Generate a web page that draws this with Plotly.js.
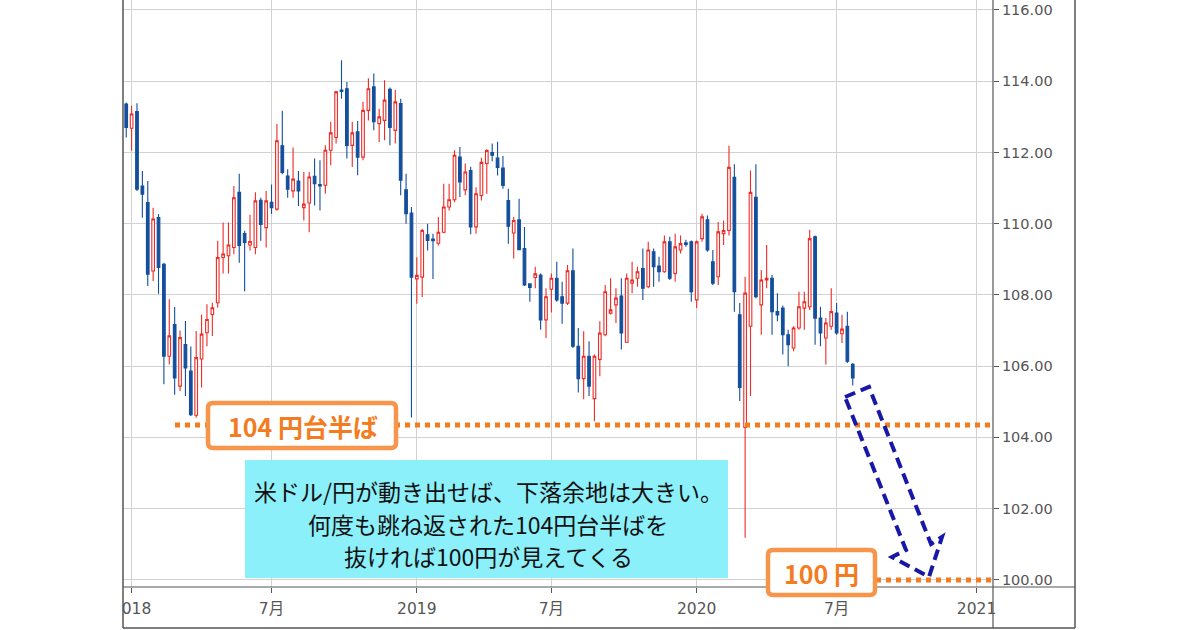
<!DOCTYPE html>
<html><head><meta charset="utf-8">
<script src="https://cdn.plot.ly/plotly-3.0.1.min.js"></script>
<style>html,body{margin:0;padding:0;background:#fff}#chart{width:1200px;height:630px}</style>
</head><body><div id="chart"></div>
<script>
// Weekly USD/JPY bars (week start dates)
const weeks = ['2017-12-25',
'2018-01-01','2018-01-08','2018-01-15','2018-01-22','2018-01-29','2018-02-05','2018-02-12','2018-02-19','2018-02-26','2018-03-05','2018-03-12','2018-03-19','2018-03-26','2018-04-02','2018-04-09','2018-04-16','2018-04-23','2018-04-30','2018-05-07','2018-05-14','2018-05-21','2018-05-28','2018-06-04','2018-06-11','2018-06-18','2018-06-25','2018-07-02','2018-07-09','2018-07-16','2018-07-23','2018-07-30','2018-08-06','2018-08-13','2018-08-20','2018-08-27','2018-09-03','2018-09-10','2018-09-17','2018-09-24','2018-10-01','2018-10-08','2018-10-15','2018-10-22','2018-10-29','2018-11-05','2018-11-12','2018-11-19','2018-11-26','2018-12-03','2018-12-10','2018-12-17','2018-12-24','2018-12-31',
'2019-01-07','2019-01-14','2019-01-21','2019-01-28','2019-02-04','2019-02-11','2019-02-18','2019-02-25','2019-03-04','2019-03-11','2019-03-18','2019-03-25','2019-04-01','2019-04-08','2019-04-15','2019-04-22','2019-04-29','2019-05-06','2019-05-13','2019-05-20','2019-05-27','2019-06-03','2019-06-10','2019-06-17','2019-06-24','2019-07-01','2019-07-08','2019-07-15','2019-07-22','2019-07-29','2019-08-05','2019-08-12','2019-08-19','2019-08-26','2019-09-02','2019-09-09','2019-09-16','2019-09-23','2019-09-30','2019-10-07','2019-10-14','2019-10-21','2019-10-28','2019-11-04','2019-11-11','2019-11-18','2019-11-25','2019-12-02','2019-12-09','2019-12-16','2019-12-23','2019-12-30',
'2020-01-06','2020-01-13','2020-01-20','2020-01-27','2020-02-03','2020-02-10','2020-02-17','2020-02-24','2020-03-02','2020-03-09','2020-03-16','2020-03-23','2020-03-30','2020-04-06','2020-04-13','2020-04-20','2020-04-27','2020-05-04','2020-05-11','2020-05-18','2020-05-25','2020-06-01','2020-06-08','2020-06-15','2020-06-22','2020-06-29','2020-07-06','2020-07-13','2020-07-20','2020-07-27'];

const openP = [113.36,
112.68,113.15,111.06,110.59,108.67,110.17,108.86,106.28,107.17,105.44,106.61,105.86,104.62,106.20,106.94,107.45,107.78,109.05,109.10,109.33,110.88,109.72,109.40,109.33,110.66,109.89,110.60,110.41,112.19,111.34,110.92,111.20,110.45,110.58,111.33,111.10,111.08,112.06,112.42,113.75,113.79,112.20,112.58,111.87,113.18,113.84,112.81,112.90,113.77,112.62,113.37,110.95,110.30,
108.45,108.50,109.69,109.57,109.45,109.76,110.47,110.67,111.87,110.95,111.49,109.91,110.79,111.69,112.00,111.84,111.56,110.65,109.74,110.11,109.30,108.31,108.49,108.56,107.30,108.16,108.47,107.95,107.77,108.68,106.56,105.65,106.28,105.09,106.19,106.88,107.49,107.72,107.97,106.67,108.33,108.47,108.74,108.23,109.21,108.81,108.65,109.49,108.60,109.26,109.46,109.49,
107.86,109.58,110.11,108.93,108.51,109.72,109.81,111.30,107.44,104.28,107.12,110.74,107.72,108.42,108.47,107.53,107.63,106.88,106.51,107.07,107.63,107.67,109.63,107.35,106.79,107.12,107.49,106.91,107.12,106.05];

const highP = [113.40,
113.31,113.38,111.48,111.20,110.45,110.27,108.90,107.88,107.66,107.00,107.27,106.55,106.99,107.45,107.74,107.78,109.52,110.03,110.03,111.06,111.40,109.80,110.25,110.88,110.73,110.92,111.10,112.80,113.17,111.53,112.14,111.48,111.45,111.45,111.83,111.78,112.20,112.86,113.73,114.59,113.98,112.86,112.88,113.42,114.08,114.22,113.23,114.03,113.82,113.75,113.51,111.40,110.47,
109.06,109.86,110.00,109.72,110.19,111.12,111.12,112.06,112.15,111.69,111.60,111.02,111.85,112.09,112.25,112.30,111.90,110.98,110.19,110.70,109.91,108.33,108.79,108.60,108.19,108.60,108.93,108.37,108.84,109.30,107.07,106.98,106.70,106.33,107.26,108.28,108.47,108.19,108.47,108.60,108.93,108.79,109.30,109.49,109.30,109.07,109.67,109.63,109.72,109.67,109.55,109.53,
109.53,110.28,110.23,109.26,110.05,110.09,112.19,111.67,107.77,108.51,111.49,111.67,108.70,109.40,108.56,108.05,107.70,107.02,107.12,108.09,108.09,109.83,109.67,107.67,107.35,108.19,107.77,107.44,107.53,106.09];

const lowP = [112.42,
112.05,110.92,110.17,108.25,108.39,108.03,105.49,106.05,105.20,105.30,105.16,104.60,104.55,105.40,106.56,106.85,107.64,108.60,108.60,109.14,108.90,108.10,109.25,109.14,109.52,109.33,110.27,110.36,111.39,110.73,110.73,110.50,110.09,109.76,110.51,110.37,110.84,111.64,112.25,113.51,111.83,111.59,111.36,111.78,112.90,112.62,112.29,112.34,112.20,112.25,110.80,110.00,104.56,
107.75,107.94,109.25,108.45,109.39,109.73,110.37,110.60,110.75,110.80,109.70,109.72,110.65,110.84,111.75,111.35,110.98,109.44,109.02,109.26,108.25,107.81,108.19,107.02,106.79,107.51,107.81,107.19,107.72,106.51,105.26,105.07,105.16,104.45,105.72,106.84,107.45,107.21,106.47,106.65,108.05,108.23,107.86,108.19,108.23,108.37,108.62,108.42,108.37,109.16,109.35,107.81,
107.63,109.49,109.21,108.28,108.28,109.40,109.67,107.53,105.02,101.18,105.16,107.91,106.88,108.19,106.88,107.26,106.33,106.00,106.42,107.02,107.02,107.58,106.60,106.56,106.05,107.02,106.88,106.65,106.09,105.46];

const closeP = [112.70,
113.08,110.97,110.83,108.58,110.13,108.77,106.28,106.85,105.67,106.80,105.95,104.64,106.24,106.90,107.31,107.64,109.05,109.15,109.40,110.73,109.39,109.47,109.50,110.64,109.98,110.64,110.45,112.33,111.44,110.97,111.25,110.92,110.55,111.31,111.12,111.06,112.06,112.55,113.70,113.71,112.20,112.55,111.87,113.18,113.79,112.86,113.00,113.47,112.70,113.42,111.22,110.28,108.50,
108.55,109.81,109.53,109.52,109.76,110.47,110.67,111.92,111.17,111.45,109.91,110.84,111.72,112.05,111.92,111.58,111.07,109.93,110.09,109.27,108.28,108.21,108.59,107.30,107.95,108.47,107.86,107.77,108.68,106.56,105.65,106.28,105.44,106.28,106.93,108.09,107.58,107.91,106.93,108.47,108.42,108.65,108.19,109.26,108.79,108.65,109.49,108.47,109.35,109.44,109.42,108.09,
109.49,110.19,109.26,108.33,109.77,109.81,111.58,108.09,105.40,108.05,110.88,107.95,108.42,108.47,107.53,107.44,106.88,106.60,107.07,107.67,107.81,109.58,107.35,106.93,107.21,107.53,106.93,107.04,106.14,105.67];

// Axis ticks
const tickDates = ['2018-01-01','2018-07-01','2019-01-01','2019-07-01','2020-01-01','2020-07-01','2021-01-01'];
const tickLabels = ['2018','7月','2019','7月','2020','7月','2021'];
const yTicks = [100,102,104,106,108,110,112,114,116];

// Annotation content
const supportLevel = 104.35;
const targetLevel = 100;
const supportLabel = '104 円台半ば';
const targetLabel = '100 円';
const noteLines = ['米ドル/円が動き出せば、下落余地は大きい。','何度も跳ね返された104円台半ばを','抜ければ100円が見えてくる'];

// ---- build ----
const idx = weeks.map((_, i) => i);
const DAY = 86400000;
const wTimes = weeks.map(d => Date.parse(d + 'T00:00:00Z'));
const tickVals = tickDates.map(d => {
  const t = Date.parse(d + 'T00:00:00Z');
  const i = wTimes.findIndex(w => w >= t);
  if (i >= 0) return i;
  const last = wTimes.length - 1;
  return last + Math.ceil((t - wTimes[last]) / (7 * DAY));
});

const RED = '#ee2b25', BLUE = '#134f9c', ORANGE = '#f47c20', OBORDER = '#f7964a';
const PL = 123, PT = 0, PW = 870, PH = 587;
const px = x => (x - PL) / PW;
const py = y => 1 - (y - PT) / PH;
function pt(x, y) { return px(x).toFixed(5) + ',' + py(y).toFixed(5); }
function roundRect(x0, y0, x1, y1, r) {
  return 'M' + pt(x0 + r, y0) + ' L' + pt(x1 - r, y0) + ' Q' + pt(x1, y0) + ' ' + pt(x1, y0 + r) +
    ' L' + pt(x1, y1 - r) + ' Q' + pt(x1, y1) + ' ' + pt(x1 - r, y1) +
    ' L' + pt(x0 + r, y1) + ' Q' + pt(x0, y1) + ' ' + pt(x0, y1 - r) +
    ' L' + pt(x0, y0 + r) + ' Q' + pt(x0, y0) + ' ' + pt(x0 + r, y0) + ' Z';
}
function line(x0, y0, x1, y1, color, w) {
  return {type:'line', xref:'paper', yref:'paper', x0:px(x0), y0:py(y0), x1:px(x1), y1:py(y1), layer:'above', line:{color:color, width:w}};
}

const trace = {
  type: 'candlestick', x: idx, open: openP, high: highP, low: lowP, close: closeP,
  text: weeks, hoverinfo: 'text+y',
  increasing: {line: {color: RED, width: 1.1}, fillcolor: '#ffffff'},
  decreasing: {line: {color: BLUE, width: 1.1}, fillcolor: BLUE},
  whiskerwidth: 0, showlegend: false
};

const arrowPts = [[845,397],[869,387],[931,544],[942,537],[929,577],[892,557],[906,550]];
const arrowPath = 'M' + arrowPts.map(p => pt(p[0], p[1])).join(' L') + ' Z';

const shapes = [
  {type:'rect', xref:'paper', yref:'paper', x0:-0.2, x1:px(122.5), y0:py(630), y1:py(588), layer:'above', fillcolor:'#ffffff', line:{width:0}},
  line(123, 0, 123, 628, '#555', 1.5),
  line(123, 628, 1075, 628, '#555', 1.5),
  line(1075, 0, 1075, 628, '#555', 1.5),
  line(123, 587, 1075, 587, '#555', 1.2),
  line(993, 0, 993, 628, '#555', 1.2),
  {type:'line', xref:'paper', yref:'y', x0:px(175), x1:1, y0:supportLevel, y1:supportLevel, layer:'above', line:{color:ORANGE, width:5, dash:'5px,5px'}},
  {type:'line', xref:'paper', yref:'y', x0:px(876), x1:1, y0:targetLevel, y1:targetLevel, layer:'above', line:{color:ORANGE, width:5, dash:'5px,5px'}},
  {type:'rect', xref:'paper', yref:'paper', x0:px(245), x1:px(728), y0:py(578), y1:py(460), layer:'above', fillcolor:'#8cf0fa', line:{width:0}},
  {type:'path', xref:'paper', yref:'paper', path:roundRect(208, 403, 396, 448, 5), layer:'above', fillcolor:'#ffffff', line:{color:OBORDER, width:4.5}},
  {type:'path', xref:'paper', yref:'paper', path:roundRect(768, 550, 875, 595, 5), layer:'above', fillcolor:'#ffffff', line:{color:OBORDER, width:4.5}},
  {type:'path', xref:'paper', yref:'paper', path:arrowPath, layer:'above', line:{color:'#1818a8', width:4, dash:'11px,6px'}}
];

const CJK = 'Noto Sans CJK JP, sans-serif';
const annotations = [
  {xref:'paper', yref:'paper', x:px(303), y:py(426), text:supportLabel, showarrow:false, xanchor:'center', yanchor:'middle', font:{family:CJK, size:25, color:ORANGE, weight:'bold'}},
  {xref:'paper', yref:'paper', x:px(821), y:py(573), text:targetLabel, showarrow:false, xanchor:'center', yanchor:'middle', font:{family:CJK, size:25, color:ORANGE, weight:'bold'}},
  {xref:'paper', yref:'paper', x:px(488), y:py(491), text:noteLines[0], showarrow:false, xanchor:'center', yanchor:'middle', font:{family:CJK, size:23, color:'#111'}},
  {xref:'paper', yref:'paper', x:px(488), y:py(524), text:noteLines[1], showarrow:false, xanchor:'center', yanchor:'middle', font:{family:CJK, size:23, color:'#111'}},
  {xref:'paper', yref:'paper', x:px(488), y:py(556), text:noteLines[2], showarrow:false, xanchor:'center', yanchor:'middle', font:{family:CJK, size:23, color:'#111'}}
];

const layout = {
  width: 1200, height: 630,
  margin: {l: PL, r: 1200 - PL - PW, t: PT, b: 630 - PT - PH, autoexpand: false},
  paper_bgcolor: '#ffffff', plot_bgcolor: '#ffffff',
  showlegend: false, hovermode: false,
  xaxis: {
    type: 'linear', range: [-0.6, 161.06], tickmode: 'array', tickvals: tickVals, ticktext: tickLabels,
    showgrid: true, gridcolor: '#d2d2d2', gridwidth: 1, zeroline: false, showline: false,
    ticks: 'outside', ticklen: 5, tickcolor: '#555', ticklabelstandoff: 2,
    tickfont: {family: 'DejaVu Sans, Noto Sans CJK JP', size: 15.5, color: '#555'},
    rangeslider: {visible: false}, fixedrange: true
  },
  yaxis: {
    side: 'right', range: [99.80, 116.28], tickmode: 'array', tickvals: yTicks,
    ticktext: yTicks.map(v => v.toFixed(2)),
    showgrid: true, gridcolor: '#d2d2d2', gridwidth: 1, zeroline: false, showline: false,
    ticks: 'outside', ticklen: 5, tickcolor: '#555',
    tickfont: {family: 'DejaVu Sans', size: 14.5, color: '#555'}, fixedrange: true
  },
  shapes: shapes,
  annotations: annotations
};

Plotly.newPlot('chart', [trace], layout, {displayModeBar: false, staticPlot: true});
</script>
</body></html>
